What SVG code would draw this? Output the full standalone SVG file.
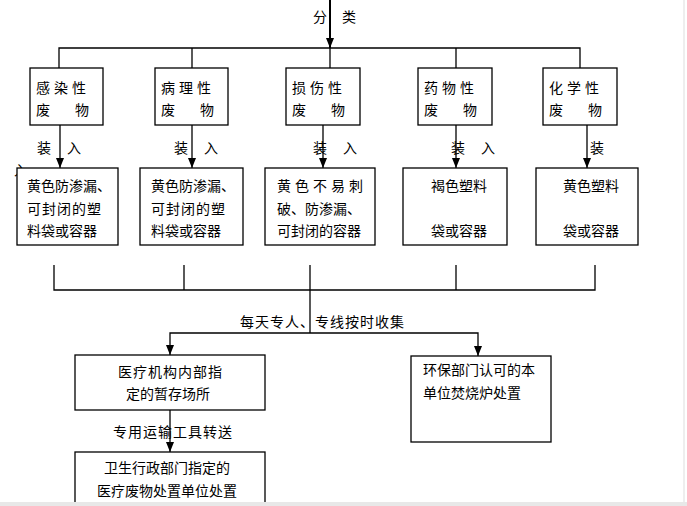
<svg xmlns="http://www.w3.org/2000/svg" width="687" height="506" viewBox="0 0 687 506">
<style>
.b{fill:#fff;stroke:#000;stroke-width:1.3}
.l{fill:none;stroke:#000;stroke-width:1.3}
text{font-family:"Noto Sans CJK SC","Noto Sans CJK JP",sans-serif;font-size:14px;fill:#000}
</style>
<defs>
<marker id="ah" markerWidth="10" markerHeight="8" refX="10" refY="4" orient="auto-start-reverse" markerUnits="userSpaceOnUse" viewBox="0 0 10 8">
<path d="M0,0 L10,4 L0,8 Z" fill="#000"/>
</marker>
</defs>
<rect x="0" y="0" width="687" height="506" fill="#fff"/>
<g id="connectors">
<line class="l" x1="330" y1="0" x2="330" y2="48" marker-end="url(#ah)" style="stroke-width:2"/>
<polyline class="l" points="59,68 59,48 580,48 580,68"/>
<line class="l" x1="192" y1="48" x2="192" y2="68"/>
<line class="l" x1="330" y1="48" x2="330" y2="68"/>
<line class="l" x1="456" y1="48" x2="456" y2="68"/>
<line class="l" x1="60" y1="125" x2="60" y2="168" marker-end="url(#ah)"/>
<line class="l" x1="192" y1="125" x2="192" y2="168" marker-end="url(#ah)"/>
<line class="l" x1="323" y1="125" x2="323" y2="168" marker-end="url(#ah)"/>
<line class="l" x1="456" y1="125" x2="456" y2="168" marker-end="url(#ah)"/>
<line class="l" x1="587" y1="125" x2="587" y2="168" marker-end="url(#ah)"/>
<polyline class="l" points="54,265 54,290 595,290 595,265"/>
<line class="l" x1="184" y1="265" x2="184" y2="290"/>
<line class="l" x1="456" y1="265" x2="456" y2="290"/>
<line class="l" x1="310" y1="265" x2="310" y2="333"/>
<polyline class="l" points="170,355 170,333 478,333 478,356" marker-start="url(#ah)" marker-end="url(#ah)"/>
<line class="l" x1="170" y1="410" x2="170" y2="452" marker-end="url(#ah)"/>
<text x="313" y="22">分</text>
<text x="342" y="22">类</text>
<text x="37" y="153">装</text><text x="67" y="153">入</text>
<text x="174" y="153">装</text><text x="204" y="153">入</text>
<text x="313" y="153">装</text><text x="343" y="153">入</text>
<text x="451" y="153">装</text><text x="481" y="153">入</text>
<text x="590" y="153">装</text>
<text x="14" y="175">入</text>
<text x="240" y="327" letter-spacing="1">每天专人、专线按时收集</text>
<text x="113" y="437" letter-spacing="1">专用运输工具转送</text>
</g>
<g id="n1"><rect class="b" x="30" y="68" width="73" height="57"/><text x="36" y="93" letter-spacing="4">感染性</text><text x="36" y="115">废</text><text x="75" y="115">物</text></g>
<g id="n2"><rect class="b" x="155" y="68" width="73" height="57"/><text x="161" y="93" letter-spacing="4">病理性</text><text x="161" y="115">废</text><text x="200" y="115">物</text></g>
<g id="n3"><rect class="b" x="286" y="68" width="74" height="57"/><text x="292" y="93" letter-spacing="4">损伤性</text><text x="292" y="115">废</text><text x="331" y="115">物</text></g>
<g id="n4"><rect class="b" x="418" y="68" width="74" height="57"/><text x="424" y="93" letter-spacing="4">药物性</text><text x="424" y="115">废</text><text x="463" y="115">物</text></g>
<g id="n5"><rect class="b" x="543" y="68" width="74" height="57"/><text x="549" y="93" letter-spacing="4">化学性</text><text x="549" y="115">废</text><text x="588" y="115">物</text></g>
<g id="c1"><rect class="b" x="17" y="168" width="101" height="77"/><text x="27" y="191">黄色防渗漏、</text><text x="27" y="214" letter-spacing="1">可封闭的塑</text><text x="27" y="236">料袋或容器</text></g>
<g id="c2"><rect class="b" x="140" y="168" width="103" height="77"/><text x="151" y="191">黄色防渗漏、</text><text x="151" y="214" letter-spacing="1">可封闭的塑</text><text x="151" y="236">料袋或容器</text></g>
<g id="c3"><rect class="b" x="265" y="168" width="110" height="77"/><text x="277" y="191" letter-spacing="4">黄色不易刺</text><text x="277" y="214">破、防渗漏、</text><text x="277" y="236">可封闭的容器</text></g>
<g id="c4"><rect class="b" x="403" y="168" width="104" height="77"/><text x="431" y="191">褐色塑料</text><text x="431" y="236">袋或容器</text></g>
<g id="c5"><rect class="b" x="536" y="168" width="102" height="77"/><text x="563" y="191">黄色塑料</text><text x="563" y="236">袋或容器</text></g>
<g id="s1"><rect class="b" x="75" y="355" width="190" height="55"/><text x="118" y="377" letter-spacing="1">医疗机构内部指</text><text x="126" y="399">定的暂存场所</text></g>
<g id="s2"><rect class="b" x="411" y="356" width="140" height="86"/><text x="423" y="375">环保部门认可的本</text><text x="423" y="398">单位焚烧炉处置</text></g>
<g id="s3"><rect class="b" x="75" y="452" width="190" height="60"/><text x="104" y="473">卫生行政部门指定的</text><text x="97" y="496">医疗废物处置单位处置</text></g>
<rect x="0" y="502" width="687" height="4" fill="#e8e8e8"/>
<line x1="684" y1="0" x2="684" y2="502" stroke="#ddd" stroke-width="1"/>
</svg>
